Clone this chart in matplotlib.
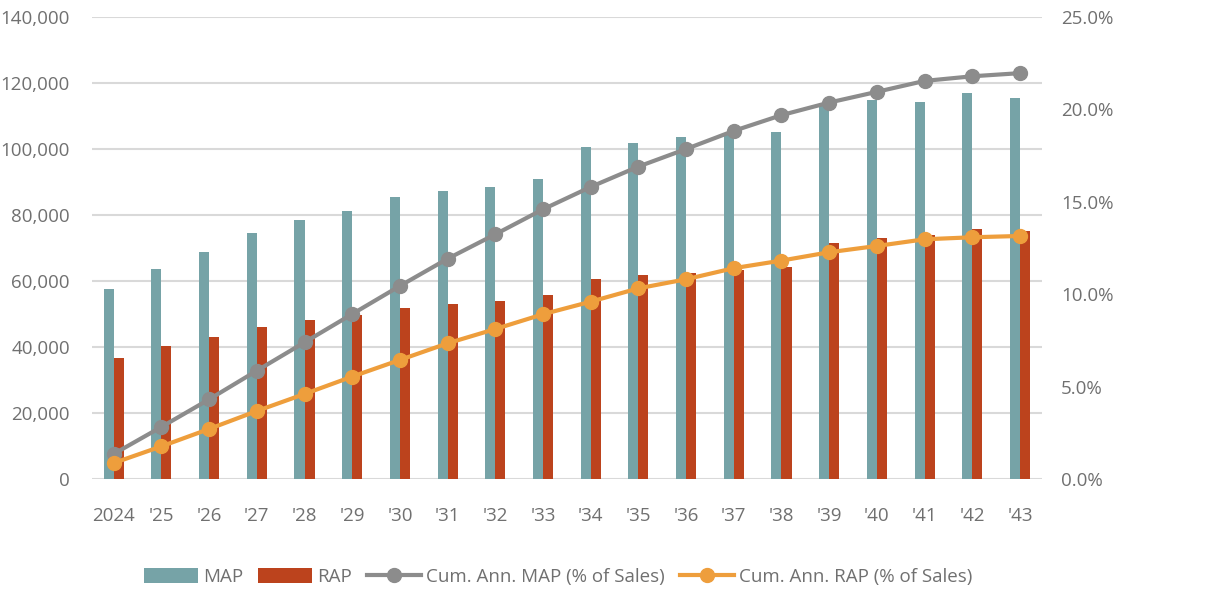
import matplotlib
matplotlib.use("Agg")
import matplotlib.pyplot as plt
from matplotlib.ticker import FuncFormatter, MultipleLocator
from matplotlib.lines import Line2D
from matplotlib.patches import Patch
import numpy as np

plt.rcParams['font.family'] = ['Open Sans', 'DejaVu Sans']

# Data
years = ["2024", "'25", "'26", "'27", "'28", "'29", "'30", "'31", "'32", "'33",
         "'34", "'35", "'36", "'37", "'38", "'39", "'40", "'41", "'42", "'43"]
map_values = [57700, 63600, 68700, 74500, 78400, 81300, 85500, 87100, 88450, 90900,
              100600, 101900, 103700, 104500, 105000, 113800, 114800, 114200, 117000, 115300]
rap_values = [36700, 40250, 43100, 46000, 48100, 49700, 51700, 52950, 54050, 55700,
              60700, 61700, 62300, 63400, 64300, 71400, 72900, 74000, 75650, 75050]
cum_map_pct = [1.37, 2.83, 4.32, 5.87, 7.40, 8.93, 10.45, 11.92, 13.24, 14.59,
               15.80, 16.90, 17.85, 18.83, 19.68, 20.36, 20.94, 21.53, 21.78, 21.95]
cum_rap_pct = [0.88, 1.78, 2.72, 3.69, 4.61, 5.55, 6.45, 7.35, 8.12, 8.92,
               9.60, 10.32, 10.81, 11.41, 11.82, 12.27, 12.61, 12.97, 13.08, 13.15]

MAP_COLOR = "#76A3A7"
RAP_COLOR = "#BC431D"
GRAY_LINE = "#8C8C8C"
ORANGE_LINE = "#EE9E3C"
TEXT_COLOR = "#707070"
GRID_COLOR = "#D9D9D9"
FS = 13.5

fig = plt.figure(figsize=(12.19, 5.93), dpi=100)
ax = fig.add_axes([92 / 1219, 1 - 479.3 / 593, (1041.7 - 92) / 1219, (479.3 - 16.7) / 593])

x = np.arange(len(years))
bw = 0.21
ax.bar(x - bw / 2, map_values, width=bw, color=MAP_COLOR, zorder=2, label="MAP")
ax.bar(x + bw / 2, rap_values, width=bw, color=RAP_COLOR, zorder=2, label="RAP")

ax.set_xlim(-0.455, len(years) - 1 + 0.455)
ax.set_ylim(0, 140000)
ax.yaxis.set_major_locator(MultipleLocator(20000))
ax.yaxis.set_major_formatter(FuncFormatter(lambda v, p: f"{int(v):,}"))
ax.grid(axis="y", color=GRID_COLOR, linewidth=1.5, zorder=0)
ax.set_axisbelow(True)
for s in ax.spines.values():
    s.set_visible(False)
ax.set_xticks(x)
ax.set_xticklabels(years)
ax.tick_params(axis="both", length=0, labelsize=FS, colors=TEXT_COLOR)
ax.tick_params(axis="y", pad=16)
ax.tick_params(axis="x", pad=20)

ax2 = ax.twinx()
ax2.plot(x, cum_map_pct, color=GRAY_LINE, lw=3.0, marker="o", ms=10, zorder=3)
ax2.plot(x, cum_rap_pct, color=ORANGE_LINE, lw=3.0, marker="o", ms=10, zorder=3)
ax2.set_ylim(0, 25)
ax2.yaxis.set_major_locator(MultipleLocator(5))
ax2.yaxis.set_major_formatter(FuncFormatter(lambda v, p: f"{v:.1f}%"))
ax2.tick_params(axis="y", length=0, labelsize=FS, colors=TEXT_COLOR, pad=14)
for s in ax2.spines.values():
    s.set_visible(False)

handles = [
    Patch(facecolor=MAP_COLOR, label="MAP"),
    Patch(facecolor=RAP_COLOR, label="RAP"),
    Line2D([], [], color=GRAY_LINE, lw=3.0, marker="o", ms=10, label="Cum. Ann. MAP (% of Sales)"),
    Line2D([], [], color=ORANGE_LINE, lw=3.0, marker="o", ms=10, label="Cum. Ann. RAP (% of Sales)"),
]
leg = fig.legend(handles=handles, loc="center", bbox_to_anchor=(558 / 1219, 1 - 577 / 593),
                 ncol=4, frameon=False, fontsize=FS, handlelength=2.9, handleheight=0.8,
                 handletextpad=0.25, columnspacing=0.8, labelcolor=TEXT_COLOR)

fig.savefig("out.png", dpi=100)
